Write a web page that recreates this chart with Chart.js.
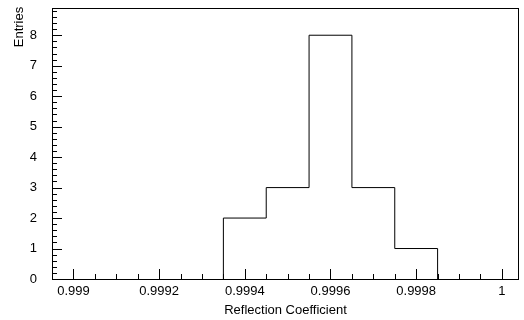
<!DOCTYPE html>
<html>
<head>
<meta charset="utf-8">
<script src="https://cdn.jsdelivr.net/npm/chart.js@4.4.1/dist/chart.umd.min.js"></script>
<style>
  html, body { margin: 0; padding: 0; background: #fff; }
  #wrap { width: 524px; height: 320px; }
</style>
</head>
<body>
<div id="wrap"><canvas id="histChart" width="524" height="320"></canvas></div>
<script>
// Histogram data: bin edges and entries per bin
const binEdges = [0.99935, 0.99945, 0.99955, 0.99965, 0.99975, 0.99985];
const binCounts = [2, 3, 8, 3, 1];

// Axis ticks
const xTickValues = [0.999, 0.9992, 0.9994, 0.9996, 0.9998, 1.0];
const xTickLabels = ["0.999", "0.9992", "0.9994", "0.9996", "0.9998", "1"];
const yTickValues = [0, 1, 2, 3, 4, 5, 6, 7, 8];

const xMin = 0.99895, xMax = 1.00004;
const yMin = 0, yMax = 8.9;

const FONT = "'Liberation Sans', Arial, Helvetica, sans-serif";

// outline points for a stepped line (horizontal first, then vertical)
const outline = [{ x: binEdges[0], y: 0 }];
binCounts.forEach((c, i) => outline.push({ x: binEdges[i], y: c }));
outline.push({ x: binEdges[binEdges.length - 1], y: 0 });

// frame, inward ticks (major + minor) and axis titles, ROOT style
const rootAxes = {
  id: "rootAxes",
  afterDraw(chart) {
    const { ctx, chartArea: a, scales } = chart;
    const xs = scales.x, ys = scales.y;
    ctx.save();
    ctx.strokeStyle = "#000";
    ctx.lineWidth = 1;
    ctx.beginPath();
    // x ticks every 0.00005, long on 0.0002
    for (let k = 0; k <= 22; k++) {
      const v = 0.99895 + k * 0.00005;
      if (v > xMax + 1e-9) break;
      const px = Math.round(xs.getPixelForValue(v)) + 0.5;
      const major = (k - 1) % 4 === 0;
      ctx.moveTo(px, a.bottom);
      ctx.lineTo(px, a.bottom - (major ? 10 : 5));
    }
    // y ticks every 0.2, long on integers
    for (let k = 0; k * 0.2 <= yMax; k++) {
      const py = Math.round(ys.getPixelForValue(k * 0.2)) + 0.5;
      ctx.moveTo(a.left, py);
      ctx.lineTo(a.left + (k % 5 === 0 ? 10 : 5), py);
    }
    ctx.stroke();
    ctx.strokeRect(Math.round(a.left) + 0.5, Math.round(a.top) + 0.5,
      Math.round(a.right - a.left) - 1, Math.round(a.bottom - a.top));

    ctx.fillStyle = "#000";
    ctx.font = "13px " + FONT;
    ctx.textAlign = "center";
    ctx.textBaseline = "middle";
    ctx.fillText("Reflection Coefficient", (a.left + a.right) / 2, 310);
    ctx.translate(19.5, a.top - 1);
    ctx.rotate(-Math.PI / 2);
    ctx.textAlign = "right";
    ctx.fillText("Entries", 0, 0);
    ctx.restore();
  },
};

const ctx = document.getElementById("histChart").getContext("2d");
const histChart = new Chart(ctx, {
  type: "line",
  data: {
    datasets: [
      {
        data: outline,
        stepped: "before",
        borderColor: "#000",
        borderWidth: 1,
        pointRadius: 0,
        fill: false,
      },
    ],
  },
  options: {
    responsive: false,
    animation: false,
    layout: { padding: { left: 0, top: 6, right: 5, bottom: 0 } },
    plugins: { legend: { display: false }, tooltip: { enabled: false } },
    scales: {
      x: {
        type: "linear",
        min: xMin,
        max: xMax,
        grid: { display: false, drawTicks: true, tickLength: 5 },
        border: { display: false },
        afterBuildTicks(scale) {
          scale.ticks = xTickValues.map((v) => ({ value: v }));
        },
        afterFit(scale) {
          scale.height = 41;
        },
        ticks: {
          autoSkip: false,
          maxRotation: 0,
          padding: 0,
          color: "#000",
          font: { family: FONT, size: 13 },
          callback: (v, i) => xTickLabels[i],
        },
      },
      y: {
        min: yMin,
        max: yMax,
        grid: { display: false, drawTicks: true, tickLength: 15 },
        border: { display: false },
        afterBuildTicks(scale) {
          scale.ticks = yTickValues.map((v) => ({ value: v }));
        },
        afterFit(scale) {
          scale.width = 52;
        },
        ticks: {
          padding: 0,
          color: "#000",
          font: { family: FONT, size: 13 },
          callback: (v) => String(v),
        },
      },
    },
  },
  plugins: [rootAxes],
});
</script>
</body>
</html>
